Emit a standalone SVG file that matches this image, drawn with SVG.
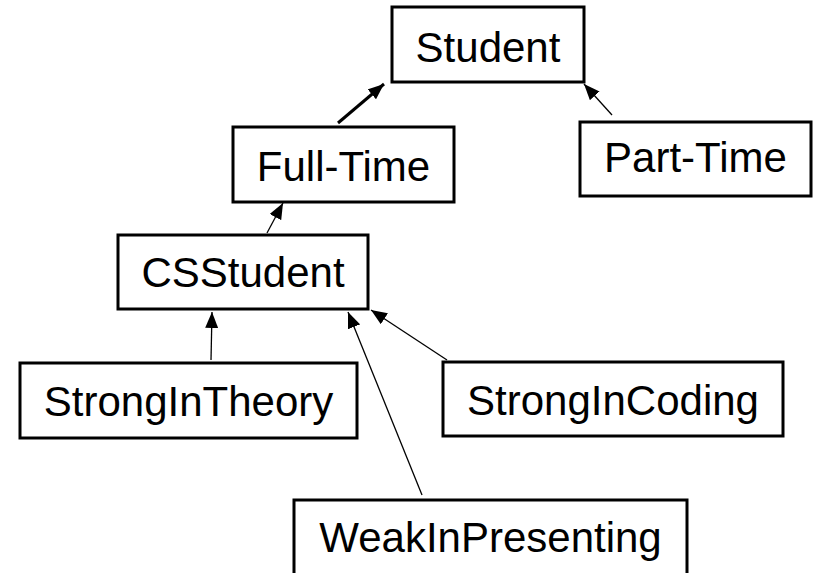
<svg xmlns="http://www.w3.org/2000/svg" width="813" height="573" viewBox="0 0 813 573">
  <style>
    .box { fill: #ffffff; stroke: #000000; stroke-width: 3; }
    .label { font-family: "Liberation Sans", Arial, sans-serif; font-size: 42px; fill: #000000; text-anchor: middle; }
    .edge { stroke: #000000; stroke-width: 1.3; fill: none; marker-end: url(#head); }
    .edge.thick { stroke-width: 3; }
  </style>
  <defs>
    <marker id="head" markerUnits="userSpaceOnUse" markerWidth="17" markerHeight="13" refX="16" refY="6.5" orient="auto">
      <path d="M0,0 L16,6.5 L0,13 Z" fill="#000000"/>
    </marker>
  </defs>
  <rect width="813" height="573" fill="#ffffff"/>

  <g id="connectors">
    <line class="edge thick" x1="338" y1="123" x2="384" y2="84"/>
    <line class="edge" x1="612" y1="115" x2="584" y2="84"/>
    <line class="edge" x1="267" y1="233" x2="283" y2="203"/>
    <line class="edge" x1="211" y1="360" x2="212" y2="312"/>
    <line class="edge" x1="422" y1="495" x2="348" y2="312"/>
    <line class="edge" x1="447" y1="360" x2="371" y2="310"/>
  </g>

  <g id="student">
    <rect class="box" x="392" y="7" width="192" height="75"/>
    <text class="label" x="488" y="62">Student</text>
  </g>
  <g id="full-time">
    <rect class="box" x="233" y="127" width="221" height="75"/>
    <text class="label" x="343.5" y="181">Full-Time</text>
  </g>
  <g id="part-time">
    <rect class="box" x="580" y="122" width="231" height="74"/>
    <text class="label" x="695.5" y="172">Part-Time</text>
  </g>
  <g id="csstudent">
    <rect class="box" x="118" y="235" width="250" height="74"/>
    <text class="label" x="243" y="287">CSStudent</text>
  </g>
  <g id="strong-in-theory">
    <rect class="box" x="20" y="363" width="337" height="75"/>
    <text class="label" x="188.5" y="416">StrongInTheory</text>
  </g>
  <g id="strong-in-coding">
    <rect class="box" x="443" y="362" width="340" height="74"/>
    <text class="label" x="613" y="415">StrongInCoding</text>
  </g>
  <g id="weak-in-presenting">
    <rect class="box" x="294" y="500" width="393" height="85"/>
    <text class="label" x="490.5" y="552">WeakInPresenting</text>
  </g>
</svg>
